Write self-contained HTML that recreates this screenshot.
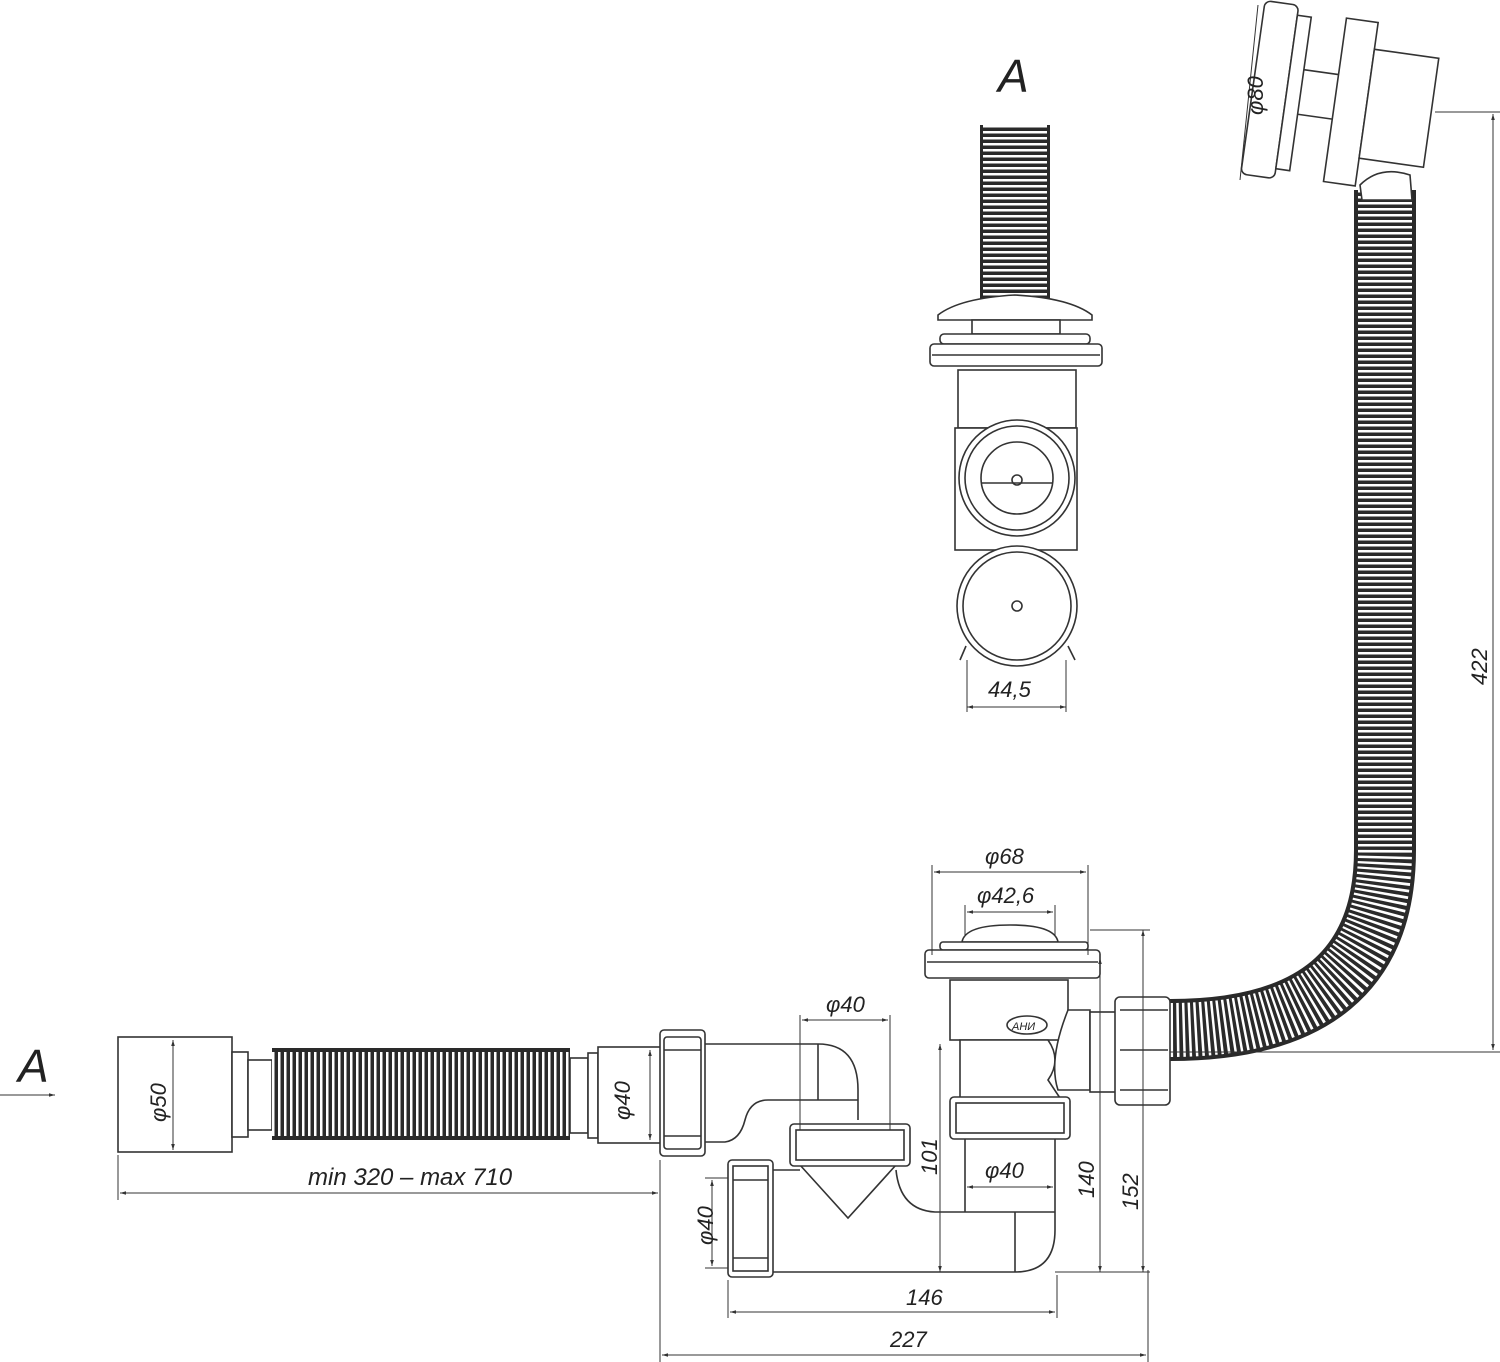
<!DOCTYPE html>
<html><head><meta charset="utf-8"><style>
html,body{margin:0;padding:0;background:#fff}
svg{display:block}
text{font-family:"Liberation Sans",sans-serif;font-style:italic;fill:#222}
</style></head><body>
<svg width="1500" height="1362" viewBox="0 0 1500 1362" xmlns="http://www.w3.org/2000/svg">
<defs>
<marker id="ar" viewBox="0 0 10 10" refX="10" refY="5" markerWidth="8" markerHeight="6" orient="auto-start-reverse"><path d="M0,2 L10,5 L0,8 z" fill="#333"/></marker>
</defs>
<g fill="none" stroke="#333" stroke-width="1.6">

<!-- big hose -->
<path d="M1385,190 L1385,850 Q1385,1030 1170,1030" stroke="#2a2a2a" stroke-width="62"/>
<path d="M1385,190 L1385,850 Q1385,1030 1170,1030" stroke="#fff" stroke-width="54" stroke-dasharray="2.5 3.5"/>

<!-- top right overflow head -->
<g transform="rotate(8 1340 100)">
<rect x="1252" y="12" width="34" height="175" rx="6" fill="#fff"/>
<rect x="1286" y="22" width="14" height="155" fill="#fff"/>
<rect x="1335" y="18" width="32" height="165" fill="#fff"/>
<rect x="1367" y="45" width="65" height="110" fill="#fff"/>
<line x1="1300" y1="75" x2="1335" y2="75"/><line x1="1300" y1="120" x2="1335" y2="120"/>
</g>
<path d="M1360,185 Q1380,165 1410,175 L1412,200 L1362,200 Z" fill="#fff"/>
<line x1="1258" y1="5" x2="1240" y2="180" stroke-width="1"/>
<line x1="1435" y1="112" x2="1500" y2="112" stroke-width="1"/>
<line x1="1493" y1="114" x2="1493" y2="1050" stroke-width="1" marker-start="url(#ar)" marker-end="url(#ar)"/>
<line x1="1170" y1="1052" x2="1500" y2="1052" stroke-width="1"/>

<!-- top view A: hose -->
<rect x="980" y="125" width="70" height="175" fill="#2a2a2a" stroke="none"/>
<line x1="1015" y1="125" x2="1015" y2="300" stroke="#fff" stroke-width="64" stroke-dasharray="2.5 3.5"/>
<path d="M938,315 Q960,298 1015,295 Q1070,298 1092,315 L1092,320 L938,320 Z" fill="#fff"/>
<rect x="972" y="320" width="88" height="14" fill="#fff"/>
<rect x="940" y="334" width="150" height="10" rx="4" fill="#fff"/>
<rect x="930" y="344" width="172" height="22" rx="4" fill="#fff"/>
<line x1="932" y1="355" x2="1100" y2="355"/>
<rect x="958" y="370" width="118" height="58" fill="#fff"/>
<rect x="955" y="428" width="122" height="122" fill="#fff"/>
<circle cx="1017" cy="478" r="58" fill="#fff"/><circle cx="1017" cy="478" r="52"/>
<circle cx="1017" cy="478" r="36"/><line x1="981" y1="483" x2="1053" y2="483"/><circle cx="1017" cy="480" r="5"/>
<circle cx="1017" cy="606" r="60" fill="#fff"/><circle cx="1017" cy="606" r="54"/><circle cx="1017" cy="606" r="5"/>
<line x1="966" y1="646" x2="960" y2="660"/><line x1="1068" y1="646" x2="1075" y2="660"/>
<line x1="967" y1="660" x2="967" y2="712" stroke-width="1"/><line x1="1066" y1="660" x2="1066" y2="712" stroke-width="1"/>
<line x1="967" y1="707" x2="1066" y2="707" stroke-width="1" marker-start="url(#ar)" marker-end="url(#ar)"/>

<!-- left fitting and hose -->
<rect x="118" y="1037" width="114" height="115" fill="#fff"/>
<line x1="173" y1="1040" x2="173" y2="1150" stroke-width="1" marker-start="url(#ar)" marker-end="url(#ar)"/>
<rect x="232" y="1052" width="16" height="85" fill="#fff"/>
<rect x="248" y="1060" width="24" height="70" fill="#fff"/>
<rect x="272" y="1048" width="298" height="92" fill="#2a2a2a" stroke="none"/>
<line x1="272" y1="1094" x2="570" y2="1094" stroke="#fff" stroke-width="84" stroke-dasharray="2.5 3.5"/>
<rect x="570" y="1058" width="18" height="75" fill="#fff"/>
<rect x="588" y="1053" width="10" height="85" fill="#fff"/>
<rect x="598" y="1047" width="64" height="96" fill="#fff"/>
<line x1="650" y1="1050" x2="650" y2="1140" stroke-width="1" marker-start="url(#ar)" marker-end="url(#ar)"/>

<!-- upper horizontal pipe to trap -->
<path d="M705,1044 L818,1044 Q858,1044 858,1090 L858,1120 L858,1100 L768,1100 Q750,1100 745,1120 Q740,1140 725,1142 L705,1142" fill="#fff"/>
<line x1="818" y1="1044" x2="818" y2="1100"/>
<rect x="660" y="1030" width="45" height="126" rx="4" fill="#fff"/>
<rect x="664" y="1037" width="37" height="112" rx="3"/>
<line x1="664" y1="1050" x2="701" y2="1050"/><line x1="664" y1="1136" x2="701" y2="1136"/>

<!-- trap -->
<path d="M800,1165 L848,1218 L896,1165" fill="#fff"/>
<path d="M896,1170 Q900,1210 935,1212 L1055,1212" />
<path d="M772,1170 L800,1170"/>
<path d="M772,1272 L1015,1272 Q1055,1272 1055,1230 L1055,1212" fill="none"/>
<line x1="1015" y1="1212" x2="1015" y2="1272"/>
<rect x="790" y="1124" width="120" height="42" rx="4" fill="#fff"/>
<rect x="796" y="1130" width="108" height="30"/>
<rect x="728" y="1160" width="45" height="117" rx="4" fill="#fff"/>
<rect x="733" y="1166" width="35" height="105"/>
<line x1="733" y1="1180" x2="768" y2="1180"/><line x1="733" y1="1258" x2="768" y2="1258"/>

<!-- drain -->
<path d="M962,942 Q965,925 1010,925 Q1055,925 1058,942 Z" fill="#fff"/>
<rect x="940" y="942" width="148" height="8" rx="3" fill="#fff"/>
<rect x="925" y="950" width="175" height="28" rx="4" fill="#fff"/>
<line x1="927" y1="962" x2="1098" y2="962"/>
<rect x="950" y="980" width="118" height="60" fill="#fff"/>
<path d="M960,1040 L1048,1040 Q1062,1060 1048,1080 L1060,1098 L960,1098 Z" fill="#fff"/>
<path d="M1068,1010 L1090,1010 L1090,1090 L1058,1090 Q1048,1060 1068,1010 Z" fill="#fff"/>
<rect x="1090" y="1012" width="30" height="80" fill="#fff"/>
<rect x="1115" y="997" width="55" height="108" rx="5" fill="#fff"/>
<line x1="1120" y1="1010" x2="1168" y2="1010"/><line x1="1120" y1="1090" x2="1168" y2="1090"/>
<line x1="1120" y1="1050" x2="1168" y2="1050"/>
<ellipse cx="1027" cy="1025" rx="20" ry="9"/>
<text x="1012" y="1030" font-size="11" stroke="none">АНИ</text>
<rect x="950" y="1097" width="120" height="42" rx="4" fill="#fff"/>
<rect x="956" y="1103" width="108" height="30"/>
<line x1="965" y1="1139" x2="965" y2="1212"/><line x1="1055" y1="1139" x2="1055" y2="1212"/>

<!-- dimension lines -->
<g stroke-width="1">
<line x1="118" y1="1155" x2="118" y2="1200"/><line x1="660" y1="1160" x2="660" y2="1362"/>
<line x1="120" y1="1193" x2="658" y2="1193" marker-start="url(#ar)" marker-end="url(#ar)"/>
<line x1="728" y1="1280" x2="728" y2="1318"/><line x1="1057" y1="1275" x2="1057" y2="1318"/>
<line x1="730" y1="1312" x2="1055" y2="1312" marker-start="url(#ar)" marker-end="url(#ar)"/>
<line x1="1148" y1="1270" x2="1148" y2="1362"/>
<line x1="662" y1="1355" x2="1146" y2="1355" marker-start="url(#ar)" marker-end="url(#ar)"/>
<line x1="940" y1="1044" x2="940" y2="1272" marker-start="url(#ar)" marker-end="url(#ar)"/>
<line x1="1100" y1="958" x2="1100" y2="1272" marker-start="url(#ar)" marker-end="url(#ar)"/>
<line x1="1143" y1="930" x2="1143" y2="1272" marker-start="url(#ar)" marker-end="url(#ar)"/>
<line x1="1090" y1="930" x2="1150" y2="930"/><line x1="1055" y1="1272" x2="1150" y2="1272"/>
<line x1="932" y1="865" x2="932" y2="955"/><line x1="1088" y1="865" x2="1088" y2="955"/>
<line x1="934" y1="872" x2="1086" y2="872" marker-start="url(#ar)" marker-end="url(#ar)"/>
<line x1="965" y1="905" x2="965" y2="935"/><line x1="1055" y1="905" x2="1055" y2="935"/>
<line x1="967" y1="912" x2="1053" y2="912" marker-start="url(#ar)" marker-end="url(#ar)"/>
<line x1="800" y1="1015" x2="800" y2="1130"/><line x1="890" y1="1015" x2="890" y2="1130"/>
<line x1="802" y1="1020" x2="888" y2="1020" marker-start="url(#ar)" marker-end="url(#ar)"/>
<line x1="967" y1="1187" x2="1053" y2="1187" marker-start="url(#ar)" marker-end="url(#ar)"/>
<line x1="705" y1="1178" x2="728" y2="1178"/><line x1="705" y1="1268" x2="728" y2="1268"/>
<line x1="712" y1="1180" x2="712" y2="1266" marker-start="url(#ar)" marker-end="url(#ar)"/>
<line x1="0" y1="1095" x2="55" y2="1095" marker-end="url(#ar)"/>
</g>
</g>

<text x="998" y="92" font-size="46">A</text>
<text x="18" y="1082" font-size="46">A</text>
<text x="988" y="697" font-size="22">44,5</text>
<text x="985" y="864" font-size="22">φ68</text>
<text x="977" y="903" font-size="22">φ42,6</text>
<text x="826" y="1012" font-size="22">φ40</text>
<text x="985" y="1178" font-size="22">φ40</text>
<text x="906" y="1305" font-size="22">146</text>
<text x="890" y="1347" font-size="22">227</text>
<text x="308" y="1185" font-size="24">min 320 – max 710</text>
<text transform="translate(166 1122) rotate(-90)" font-size="22">φ50</text>
<text transform="translate(630 1120) rotate(-90)" font-size="22">φ40</text>
<text transform="translate(713 1245) rotate(-90)" font-size="22">φ40</text>
<text transform="translate(937 1175) rotate(-90)" font-size="22">101</text>
<text transform="translate(1094 1198) rotate(-90)" font-size="22">140</text>
<text transform="translate(1138 1210) rotate(-90)" font-size="22">152</text>
<text transform="translate(1487 685) rotate(-90)" font-size="22">422</text>
<text transform="translate(1263 115) rotate(-90)" font-size="22">φ80</text>
</svg>
</body></html>
